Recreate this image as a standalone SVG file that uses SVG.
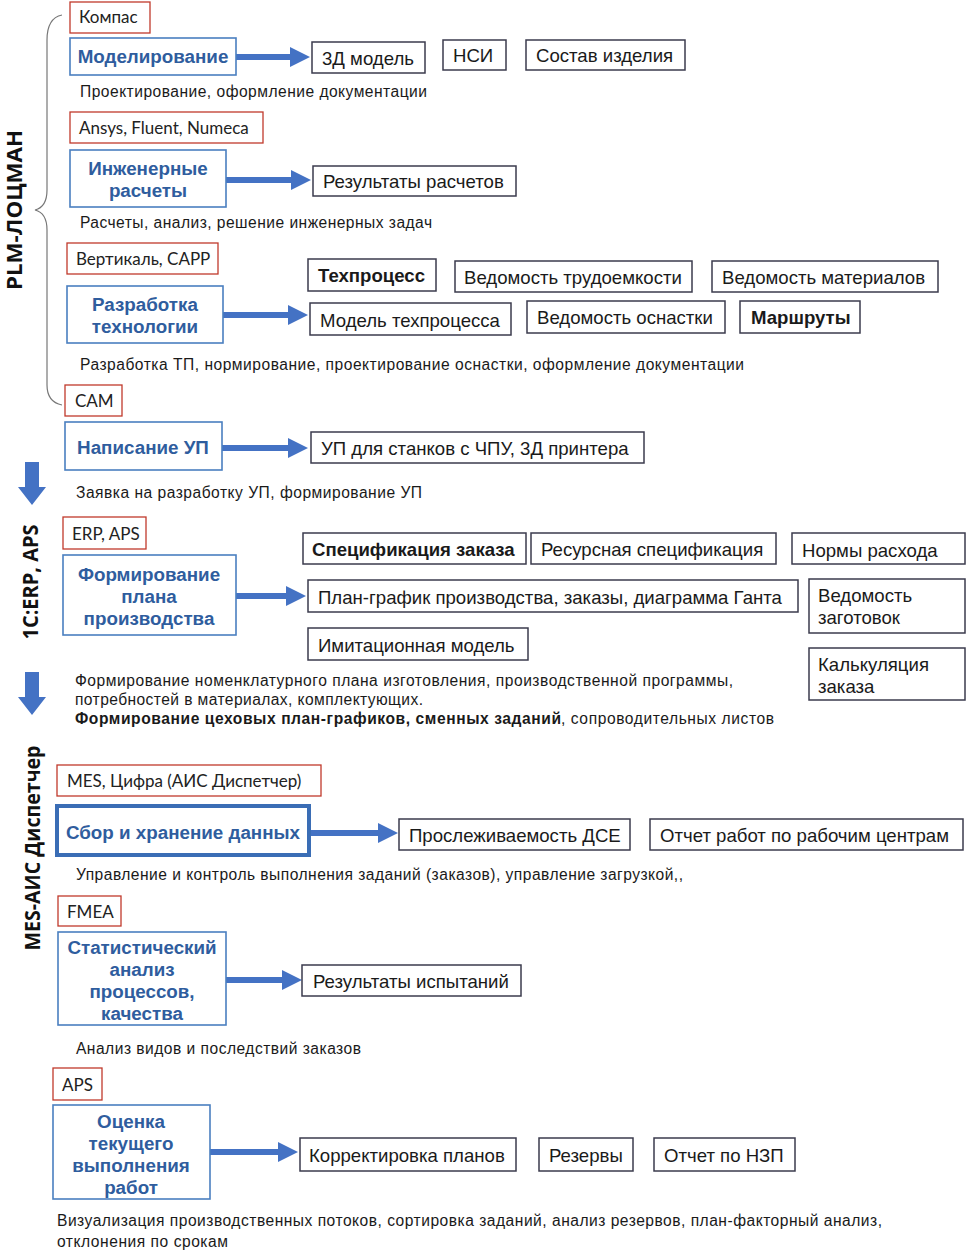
<svg xmlns="http://www.w3.org/2000/svg" width="975" height="1256" viewBox="0 0 975 1256">
<style>
.bg{fill:#fff}
.red{fill:#fff;stroke:#c0392b;stroke-width:1.3}
.rt{font-family:Lato,"Open Sans",sans-serif;font-size:17px;fill:#222}
.blue{fill:#fff;stroke:#4a7fc0;stroke-width:1.6}
.blueth{fill:#fff;stroke:#3a6db5;stroke-width:4}
.bt{font-family:"Liberation Sans",Arial,sans-serif;font-size:18.8px;font-weight:bold;fill:#2f5d9e;text-anchor:middle}
.box{fill:#fff;stroke:#3b3b4d;stroke-width:1.5}
.tt{font-family:"Liberation Sans",Arial,sans-serif;font-size:18.6px;fill:#1a1a1a}
.tb{font-family:"Liberation Sans",Arial,sans-serif;font-size:18.6px;font-weight:bold;fill:#1a1a1a}
.desc{font-family:"Liberation Sans",Arial,sans-serif;font-size:15.6px;fill:#1a1a1a}
.side{font-family:"Open Sans","Liberation Sans",sans-serif;font-size:21px;font-weight:bold;fill:#111;text-anchor:middle}
.arr{fill:#4472c4}
.brace{fill:none;stroke:#777;stroke-width:1.2}
</style>
<rect class="bg" x="0" y="0" width="975" height="1256"/>

<g id="side-labels">
<text class="side" transform="translate(22,210) rotate(-90)" textLength="160" lengthAdjust="spacingAndGlyphs">PLM-ЛОЦМАН</text>
<text class="side" transform="translate(38,582) rotate(-90)" textLength="115" lengthAdjust="spacingAndGlyphs">1С:ERP, APS</text>
<text class="side" transform="translate(40,848) rotate(-90)" textLength="205" lengthAdjust="spacingAndGlyphs">MES-АИС Диспетчер</text>
</g>

<g id="brace">
<path class="brace" d="M62,15 Q47,18 47,40 L47,190 Q47,207 35,210 Q47,213 47,230 L47,385 Q47,402 62,405"/>
</g>

<g id="connectors">
<polygon class="arr" points="236,54 290,54 290,47 310,57 290,67 290,60 236,60"/>
<polygon class="arr" points="226,177 291,177 291,170 311,180 291,190 291,183 226,183"/>
<polygon class="arr" points="223,312 288,312 288,305 308,315 288,325 288,318 223,318"/>
<polygon class="arr" points="222,445 288,445 288,438 308,448 288,458 288,451 222,451"/>
<polygon class="arr" points="236,593 286,593 286,586 306,596 286,606 286,599 236,599"/>
<polygon class="arr" points="309,830 378,830 378,823 398,833 378,843 378,836 309,836"/>
<polygon class="arr" points="226,977 282,977 282,970 302,980 282,990 282,983 226,983"/>
<polygon class="arr" points="210,1149 278,1149 278,1142 298,1152 278,1162 278,1155 210,1155"/>
<polygon class="arr" points="25,462 39,462 39,487 46,487 32,505 18,487 25,487"/>
<polygon class="arr" points="25,672 39,672 39,697 46,697 32,715 18,697 25,697"/>
</g>

<g id="n-kompas"><rect class="red" x="70" y="2" width="80" height="31"/><text class="rt" x="79" y="23">Компас</text></g>
<g id="n-model"><rect class="blue" x="70" y="38" width="166" height="37"/><text class="bt" x="153" y="63">Моделирование</text></g>
<g id="n-3d"><rect class="box" x="312" y="42" width="113" height="31"/><text class="tt" x="322" y="65">3Д модель</text></g>
<g id="n-nsi"><rect class="box" x="443" y="40" width="63" height="30"/><text class="tt" x="453" y="62">НСИ</text></g>
<g id="n-sostav"><rect class="box" x="526" y="40" width="159" height="30"/><text class="tt" x="536" y="62">Состав изделия</text></g>
<text class="desc" x="80" y="97" textLength="347" lengthAdjust="spacing">Проектирование, оформление документации</text>

<g id="n-ansys"><rect class="red" x="70" y="112" width="193" height="31"/><text class="rt" x="79" y="134">Ansys, Fluent, Numeca</text></g>
<g id="n-inzh"><rect class="blue" x="70" y="150" width="156" height="57"/><text class="bt" x="148" y="175">Инженерные</text><text class="bt" x="148" y="197">расчеты</text></g>
<g id="n-rezras"><rect class="box" x="313" y="166" width="203" height="30"/><text class="tt" x="323" y="188">Результаты расчетов</text></g>
<text class="desc" x="80" y="228" textLength="352" lengthAdjust="spacing">Расчеты, анализ, решение инженерных задач</text>

<g id="n-vert"><rect class="red" x="67" y="243" width="151" height="31"/><text class="rt" x="76" y="265">Вертикаль, CAPP</text></g>
<g id="n-razr"><rect class="blue" x="67" y="286" width="156" height="57"/><text class="bt" x="145" y="311">Разработка</text><text class="bt" x="145" y="333">технологии</text></g>
<g id="n-tekh"><rect class="box" x="308" y="259" width="128" height="32"/><text class="tb" x="318" y="282">Техпроцесс</text></g>
<g id="n-trud"><rect class="box" x="455" y="261" width="237" height="31"/><text class="tt" x="464" y="284">Ведомость трудоемкости</text></g>
<g id="n-mat"><rect class="box" x="712" y="261" width="226" height="31"/><text class="tt" x="722" y="284">Ведомость материалов</text></g>
<g id="n-modtp"><rect class="box" x="310" y="303" width="201" height="32"/><text class="tt" x="320" y="327">Модель техпроцесса</text></g>
<g id="n-osn"><rect class="box" x="527" y="301" width="198" height="32"/><text class="tt" x="537" y="324">Ведомость оснастки</text></g>
<g id="n-marsh"><rect class="box" x="740" y="301" width="120" height="32"/><text class="tb" x="751" y="324">Маршруты</text></g>
<text class="desc" x="80" y="370" textLength="664" lengthAdjust="spacing">Разработка ТП, нормирование, проектирование оснастки, оформление документации</text>

<g id="n-cam"><rect class="red" x="65" y="385" width="57" height="31"/><text class="rt" x="75" y="407">CAM</text></g>
<g id="n-napup"><rect class="blue" x="65" y="422" width="157" height="48"/><text class="bt" x="143" y="454">Написание УП</text></g>
<g id="n-upst"><rect class="box" x="311" y="432" width="333" height="31"/><text class="tt" x="321" y="455">УП для станков с ЧПУ, 3Д принтера</text></g>
<text class="desc" x="76" y="498" textLength="346" lengthAdjust="spacing">Заявка на разработку УП, формирование УП</text>

<g id="n-erp"><rect class="red" x="63" y="517" width="83" height="32"/><text class="rt" x="72" y="540">ERP, APS</text></g>
<g id="n-form"><rect class="blue" x="63" y="555" width="173" height="80"/><text class="bt" x="149" y="581">Формирование</text><text class="bt" x="149" y="603">плана</text><text class="bt" x="149" y="625">производства</text></g>
<g id="n-spec"><rect class="box" x="303" y="533" width="223" height="31"/><text class="tb" x="312" y="556">Спецификация заказа</text></g>
<g id="n-res"><rect class="box" x="531" y="533" width="245" height="31"/><text class="tt" x="541" y="556">Ресурсная спецификация</text></g>
<g id="n-norm"><rect class="box" x="792" y="533" width="173" height="31"/><text class="tt" x="802" y="557">Нормы расхода</text></g>
<g id="n-plan"><rect class="box" x="308" y="580" width="490" height="32"/><text class="tt" x="318" y="604">План-график производства, заказы, диаграмма Ганта</text></g>
<g id="n-zag"><rect class="box" x="809" y="579" width="156" height="54"/><text class="tt" x="818" y="602">Ведомость</text><text class="tt" x="818" y="624">заготовок</text></g>
<g id="n-imit"><rect class="box" x="308" y="628" width="220" height="32"/><text class="tt" x="318" y="652">Имитационная модель</text></g>
<g id="n-kalk"><rect class="box" x="809" y="648" width="156" height="52"/><text class="tt" x="818" y="671">Калькуляция</text><text class="tt" x="818" y="693">заказа</text></g>
<text class="desc" x="75" y="686" textLength="658" lengthAdjust="spacing">Формирование номенклатурного плана изготовления, производственной программы,</text>
<text class="desc" x="75" y="705" textLength="348" lengthAdjust="spacing">потребностей в материалах, комплектующих.</text>
<text class="desc" x="75" y="724" textLength="486" lengthAdjust="spacing" font-weight="bold">Формирование цеховых план-графиков, сменных заданий</text>
<text class="desc" x="561" y="724" textLength="213" lengthAdjust="spacing">, сопроводительных листов</text>

<g id="n-mes"><rect class="red" x="57" y="765" width="264" height="31"/><text class="rt" x="67" y="787">MES, Цифра (АИС Диспетчер)</text></g>
<g id="n-sbor"><rect class="blueth" x="57" y="806" width="252" height="49"/><text class="bt" x="183" y="839">Сбор и хранение данных</text></g>
<g id="n-prosl"><rect class="box" x="399" y="819" width="231" height="31"/><text class="tt" x="409" y="842">Прослеживаемость ДСЕ</text></g>
<g id="n-otch"><rect class="box" x="650" y="819" width="313" height="31"/><text class="tt" x="660" y="842">Отчет работ по рабочим центрам</text></g>
<text class="desc" x="76" y="880" textLength="607" lengthAdjust="spacing">Управление и контроль выполнения заданий (заказов), управление загрузкой,,</text>

<g id="n-fmea"><rect class="red" x="58" y="896" width="63" height="30"/><text class="rt" x="67" y="918">FMEA</text></g>
<g id="n-stat"><rect class="blue" x="58" y="932" width="168" height="93"/><text class="bt" x="142" y="954">Статистический</text><text class="bt" x="142" y="976">анализ</text><text class="bt" x="142" y="998">процессов,</text><text class="bt" x="142" y="1020">качества</text></g>
<g id="n-isp"><rect class="box" x="302" y="965" width="219" height="31"/><text class="tt" x="313" y="988">Результаты испытаний</text></g>
<text class="desc" x="76" y="1054" textLength="285" lengthAdjust="spacing">Анализ видов и последствий заказов</text>

<g id="n-aps"><rect class="red" x="53" y="1068" width="49" height="32"/><text class="rt" x="62" y="1091">APS</text></g>
<g id="n-ocen"><rect class="blue" x="53" y="1105" width="157" height="94"/><text class="bt" x="131" y="1128">Оценка</text><text class="bt" x="131" y="1150">текущего</text><text class="bt" x="131" y="1172">выполнения</text><text class="bt" x="131" y="1194">работ</text></g>
<g id="n-korr"><rect class="box" x="300" y="1138" width="216" height="33"/><text class="tt" x="309" y="1162">Корректировка планов</text></g>
<g id="n-rez"><rect class="box" x="539" y="1138" width="94" height="33"/><text class="tt" x="549" y="1162">Резервы</text></g>
<g id="n-nzp"><rect class="box" x="654" y="1138" width="141" height="33"/><text class="tt" x="664" y="1162">Отчет по НЗП</text></g>
<text class="desc" x="57" y="1226" textLength="825" lengthAdjust="spacing">Визуализация производственных потоков, сортировка заданий, анализ резервов, план-факторный анализ,</text>
<text class="desc" x="57" y="1247" textLength="171" lengthAdjust="spacing">отклонения  по срокам</text>
</svg>
